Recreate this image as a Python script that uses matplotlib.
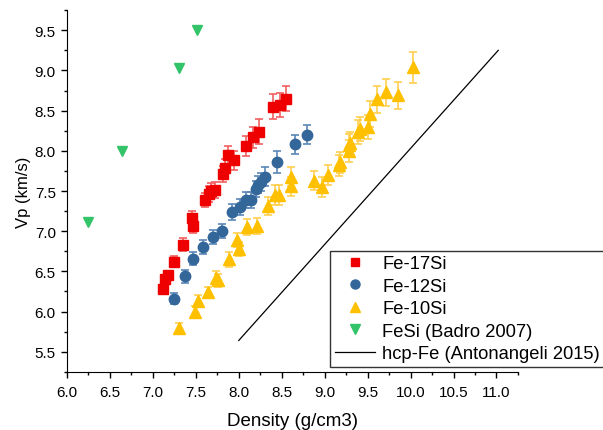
import numpy as np
import matplotlib
matplotlib.use('Agg')
import matplotlib.pyplot as plt
from matplotlib.ticker import MultipleLocator
from matplotlib.lines import Line2D

plt.rcParams['font.family'] = ['Liberation Sans', 'DejaVu Sans']
plt.rcParams['font.size'] = 11

# Fe-17Si
x17 = [7.12, 7.14, 7.18, 7.25, 7.35, 7.46, 7.47, 7.61, 7.65, 7.68, 7.72, 7.82, 7.84, 7.87, 7.95, 8.09, 8.16, 8.24, 8.40, 8.48, 8.55]
y17 = [6.28, 6.40, 6.45, 6.62, 6.83, 7.16, 7.07, 7.39, 7.46, 7.50, 7.51, 7.71, 7.79, 7.95, 7.88, 8.06, 8.17, 8.24, 8.55, 8.57, 8.65]
e17 = [0.05, 0.06, 0.06, 0.07, 0.08, 0.09, 0.09, 0.09, 0.10, 0.10, 0.10, 0.10, 0.11, 0.11, 0.12, 0.13, 0.13, 0.15, 0.16, 0.15, 0.16]

# Fe-12Si
x12 = [7.25, 7.38, 7.47, 7.58, 7.70, 7.80, 7.92, 8.02, 8.08, 8.14, 8.20, 8.22, 8.26, 8.31, 8.45, 8.65, 8.79]
y12 = [6.16, 6.44, 6.66, 6.80, 6.93, 7.00, 7.24, 7.30, 7.39, 7.39, 7.52, 7.58, 7.61, 7.68, 7.86, 8.08, 8.20]
e12 = [0.07, 0.08, 0.08, 0.09, 0.09, 0.09, 0.10, 0.10, 0.10, 0.10, 0.10, 0.11, 0.11, 0.12, 0.14, 0.12, 0.12]

# Fe-10Si
x10 = [7.31, 7.49, 7.52, 7.64, 7.74, 7.76, 7.89, 7.98, 8.00, 8.10, 8.21, 8.34, 8.42, 8.47, 8.61, 8.61,
       8.87, 8.97, 9.04, 9.17, 9.18, 9.28, 9.28, 9.30, 9.39, 9.41, 9.50, 9.53, 9.61, 9.71, 9.85, 10.03]
y10 = [5.80, 6.00, 6.13, 6.24, 6.42, 6.39, 6.65, 6.89, 6.78, 7.05, 7.07, 7.31, 7.45, 7.45, 7.56, 7.68,
       7.63, 7.55, 7.70, 7.82, 7.86, 8.00, 8.07, 8.10, 8.23, 8.27, 8.30, 8.46, 8.64, 8.73, 8.69, 9.04]
e10 = [0.06, 0.07, 0.07, 0.07, 0.08, 0.08, 0.09, 0.09, 0.09, 0.10, 0.10, 0.11, 0.12, 0.12, 0.12, 0.12,
       0.12, 0.12, 0.12, 0.13, 0.13, 0.14, 0.14, 0.14, 0.15, 0.15, 0.15, 0.16, 0.17, 0.17, 0.17, 0.19]

# FeSi (Badro 2007)
x_badro = [6.25, 6.64, 7.30, 7.51]
y_badro = [7.12, 8.00, 9.03, 9.50]

# hcp-Fe (Antonangeli 2015)
x_hcp = [8.0, 11.02]
y_hcp = [5.64, 9.25]

red = '#ee0000'
blue = '#336699'
yellow = '#ffc000'
green = '#33c46a'

fig = plt.figure(figsize=(6.03, 4.31), dpi=100)
ax = fig.add_axes([0.111, 0.135, 0.748, 0.839])

ax.errorbar(x17, y17, yerr=e17, fmt='s', color=red, ms=7, ecolor='#f06060',
            elinewidth=1.2, capsize=3, capthick=1.2)
ax.errorbar(x12, y12, yerr=e12, fmt='o', color=blue, ms=7.5, ecolor='#5a86b8',
            elinewidth=1.2, capsize=3, capthick=1.2)
ax.errorbar(x10, y10, yerr=e10, fmt='^', color=yellow, ms=8.5, ecolor='#ffcf50',
            elinewidth=1.2, capsize=3, capthick=1.2)
ax.plot(x_badro, y_badro, 'v', color=green, ms=7.5, ls='none')
ax.plot(x_hcp, y_hcp, '-', color='black', lw=0.9)

ax.set_xlim(6.0, 11.25)
ax.set_ylim(5.25, 9.75)
ax.xaxis.set_major_locator(MultipleLocator(0.5))
ax.xaxis.set_minor_locator(MultipleLocator(0.25))
ax.yaxis.set_major_locator(MultipleLocator(0.5))
ax.yaxis.set_minor_locator(MultipleLocator(0.25))
ax.xaxis.set_major_formatter(plt.FormatStrFormatter('%.1f'))
ax.yaxis.set_major_formatter(plt.FormatStrFormatter('%.1f'))
ax.spines['top'].set_visible(False)
ax.spines['right'].set_visible(False)
ax.tick_params(which='major', direction='out', length=4.5, width=1)
ax.tick_params(which='minor', direction='out', length=2.5, width=1)
ax.tick_params(axis='x', pad=5)
ax.tick_params(labelsize=11)

ax.set_xlabel('Density (g/cm3)', fontsize=13.5, labelpad=9)
ax.set_ylabel('Vp (km/s)', fontsize=12, labelpad=3)

handles = [
    Line2D([], [], marker='s', color=red, ls='none', ms=6),
    Line2D([], [], marker='o', color=blue, ls='none', ms=6.5),
    Line2D([], [], marker='^', color=yellow, ls='none', ms=7),
    Line2D([], [], marker='v', color=green, ls='none', ms=7),
    Line2D([], [], color='black', lw=0.9),
]
labels = ['Fe-17Si', 'Fe-12Si', 'Fe-10Si', 'FeSi (Badro 2007)', 'hcp-Fe (Antonangeli 2015)']
leg = ax.legend(handles, labels, loc='lower left', bbox_to_anchor=(330 / 603, 1 - 368 / 431),
                bbox_transform=fig.transFigure, fontsize=13.2, frameon=True,
                fancybox=False, edgecolor='#333333', framealpha=1,
                handlelength=2.2, handletextpad=0.4, borderpad=0.25,
                labelspacing=0.3, borderaxespad=0)
leg.get_frame().set_linewidth(1.0)

fig.savefig('out.png', dpi=100)
